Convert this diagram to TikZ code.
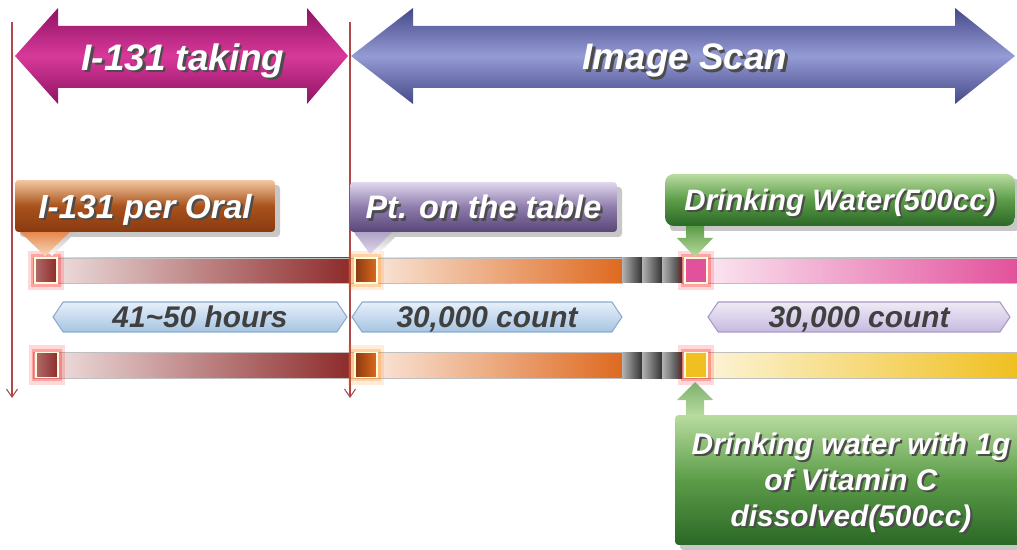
\documentclass[tikz,border=0pt]{standalone}
\usepackage{fontspec}
\setmainfont{Liberation Sans}
\usetikzlibrary{arrows.meta,shapes.symbols}

\definecolor{magdark}{HTML}{8E1362}
\definecolor{magmid}{HTML}{D8399A}
\definecolor{bludark}{HTML}{45498A}
\definecolor{blumid}{HTML}{959BD4}
\definecolor{brtop}{HTML}{F4C8A0}
\definecolor{brmid}{HTML}{A8521C}
\definecolor{brbot}{HTML}{8A3A10}
\definecolor{pptop}{HTML}{E0D8EE}
\definecolor{ppmid}{HTML}{8E7CAC}
\definecolor{ppbot}{HTML}{584678}
\definecolor{grtop}{HTML}{B8DCA0}
\definecolor{grmid}{HTML}{5C9C48}
\definecolor{grbot}{HTML}{2A6826}
\definecolor{redbar}{HTML}{8E2B2B}
\definecolor{orbar}{HTML}{DE6A20}
\definecolor{pkbar}{HTML}{E2529C}
\definecolor{ylbar}{HTML}{F0C020}
\definecolor{hexbtop}{HTML}{E6F0FA}
\definecolor{hexbbot}{HTML}{A6C4E2}
\definecolor{hexbline}{HTML}{8CAACC}
\definecolor{hexptop}{HTML}{F0EAF6}
\definecolor{hexpbot}{HTML}{C6BADF}
\definecolor{hexpline}{HTML}{A898C4}
\definecolor{tlinecol}{HTML}{B04848}

% white lettering with a dark drop shadow
\newcommand{\shtxt}[1]{\makebox[0pt][l]{\hspace{0.07em}\raisebox{-0.07em}{\textcolor{black!70}{#1}}}#1}

\begin{document}
\begin{tikzpicture}[
  x=0.02cm, y=-0.02cm,
  >={Straight Barb[length=1.6mm,width=2.2mm]},
  tline/.style={draw=tlinecol, line width=0.6pt, ->},
  banner/.style={text=white, text depth=0pt, font=\fontsize{21}{25}\selectfont\bfseries\itshape},
  labelbox/.style={rectangle, rounded corners=2pt, inner sep=0pt, text=white, text depth=0pt,
    font=\fontsize{19}{22}\selectfont\bfseries\itshape},
  shadowbox/.style={fill=black!22, rounded corners=2pt},
  ribbon/.style={signal, signal to=west and east, signal pointer angle=112, line width=0.6pt,
    inner sep=0pt, minimum height=0.6cm, text=black!75, text depth=0pt,
    font=\fontsize{17}{20}\selectfont\bfseries\itshape},
  ribbonblue/.style={ribbon, draw=hexbline, top color=hexbtop, bottom color=hexbbot},
  ribbonpurple/.style={ribbon, draw=hexpline, top color=hexptop, bottom color=hexpbot},
  barseg/.style={draw=black!25, line width=0.4pt},
  sqmark/.style={draw=white!85!yellow, line width=1pt, inner sep=0pt,
    minimum width=0.44cm, minimum height=0.5cm,
    preaction={draw=#1, draw opacity=0.15, line width=8pt, rounded corners=4pt},
    preaction={draw=#1, draw opacity=0.25, line width=4.5pt, rounded corners=2pt}},
]
  \useasboundingbox (0,0) rectangle (1017,550);

  % phase arrows
  \shade[top color=magdark, bottom color=magdark, middle color=magmid]
    (15,56) -- (58,8) -- (58,26) -- (307,26) -- (307,8) -- (348,56)
    -- (307,104) -- (307,88) -- (58,88) -- (58,104) -- cycle;
  \shade[top color=bludark, bottom color=bludark, middle color=blumid]
    (351,56) -- (413,8) -- (413,26) -- (955,26) -- (955,8) -- (1015,56)
    -- (955,104) -- (955,88) -- (413,88) -- (413,104) -- cycle;
  \node[banner] (taking) at (183,57) {\shtxt{I-131 taking}};
  \node[banner] (scan)   at (685,57) {\shtxt{Image Scan}};

  % upper bar
  \shade[barseg, left color=redbar!10, right color=redbar] (33,258) rectangle (350,283);
  \shade[barseg, left color=orbar!10, right color=orbar] (350,258) rectangle (622,283);
  \foreach \sx in {622,642,662}
    \shade[left color=black!30, right color=black!80] (\sx,258) rectangle ++(20,25);
  \shade[barseg, left color=pkbar!8, right color=pkbar] (682,258) rectangle (1017,283);

  % lower bar
  \shade[barseg, left color=redbar!10, right color=redbar] (33,352) rectangle (350,378);
  \shade[barseg, left color=orbar!10, right color=orbar] (350,352) rectangle (622,378);
  \foreach \sx in {622,642,662}
    \shade[left color=black!30, right color=black!80] (\sx,352) rectangle ++(20,26);
  \shade[barseg, left color=ylbar!12, right color=ylbar] (682,352) rectangle (1017,378);

  % time lines
  \coordinate (startA) at (12,22);
  \coordinate (startB) at (12,398);
  \coordinate (scanA)  at (350,22);
  \coordinate (scanB)  at (350,398);
  \draw[tline] (startA) -- (startB);
  \draw[tline] (scanA) -- (scanB);

  % markers
  \node[sqmark=red, left color=redbar!70, right color=redbar] (oralA) at (46,270.5) {};
  \node[sqmark=orange, left color=brbot, right color=orbar] (tableA) at (366,270.5) {};
  \node[sqmark=red, fill=pkbar] (waterA) at (696,270.5) {};
  \node[sqmark=red, left color=redbar!70, right color=redbar] (oralB) at (47,365) {};
  \node[sqmark=orange, left color=brbot, right color=orbar] (tableB) at (366,365) {};
  \node[sqmark=red, fill=ylbar] (vitcB) at (696,365) {};

  % event labels
  \fill[shadowbox] (20,185) rectangle (280,237);
  \shade[top color=black!25, bottom color=white] (28,232) -- (76,232) -- (52,256) -- cycle;
  \shade[top color=orbar!80, bottom color=brtop!70] (20,232) -- (70,232) -- (45,256) -- cycle;
  \node[labelbox, minimum width=5.2cm, minimum height=1.04cm,
    top color=brtop, bottom color=brbot, middle color=brmid] (oral) at (145,206)
    {\shtxt{I-131 per Oral}};

  \fill[shadowbox] (355,187) rectangle (622,237);
  \shade[top color=black!25, bottom color=white] (362,232) -- (400,232) -- (378,254) -- cycle;
  \shade[top color=ppmid!70, bottom color=pptop] (354,232) -- (392,232) -- (370,254) -- cycle;
  \node[labelbox, minimum width=5.34cm, minimum height=1cm,
    top color=pptop, bottom color=ppbot, middle color=ppmid,
    font=\fontsize{18.5}{22}\selectfont\bfseries\itshape] (table) at (483.5,207)
    {\shtxt{Pt. on the table}};

  \fill[shadowbox] (670,179) rectangle (1019,231);
  \shade[top color=grmid, bottom color=grtop]
    (686,226) -- (704,226) -- (704,238) -- (713,238) -- (695,257)
    -- (677,238) -- (686,238) -- cycle;
  \node[labelbox, rounded corners=5pt, minimum width=7cm, minimum height=1.04cm,
    top color=grtop, bottom color=grbot, middle color=grmid,
    font=\fontsize{16.8}{20}\selectfont\bfseries\itshape] (water) at (840,200)
    {\shtxt{Drinking Water(500cc)}};

  \shade[top color=grmid!80, bottom color=grtop]
    (695,382) -- (713,400) -- (704,400) -- (704,416) -- (686,416)
    -- (686,400) -- (677,400) -- cycle;
  \fill[shadowbox] (680,420) rectangle (1030,550);
  \node[labelbox, align=center, minimum width=7.04cm, minimum height=2.6cm,
    top color=grtop, bottom color=grbot, middle color=grmid,
    font=\fontsize{17}{20.5}\selectfont\bfseries\itshape] (vitc) at (851,480)
    {\shtxt{Drinking water with 1g}\\\shtxt{of Vitamin C}\\\shtxt{dissolved(500cc)}};

  % intervals
  \node[ribbonblue, minimum width=5.88cm] (hours) at (200,317) {41\textasciitilde 50 hours};
  \node[ribbonblue, minimum width=5.4cm] (countA) at (487,317) {30,000 count};
  \node[ribbonpurple, minimum width=6.04cm] (countB) at (859,317) {30,000 count};
\end{tikzpicture}
\end{document}
